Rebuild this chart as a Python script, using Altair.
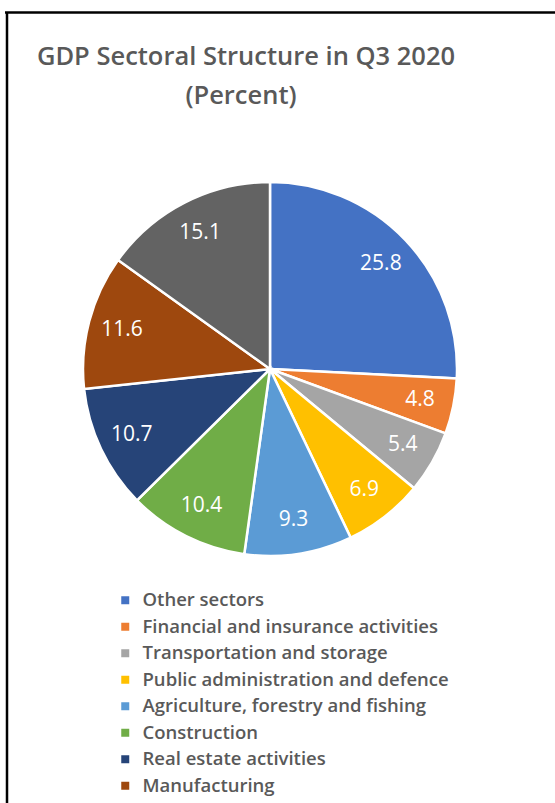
import altair as alt
import pandas as pd

sectors = [
    "Other sectors",
    "Financial and insurance activities",
    "Transportation and storage",
    "Public administration and defence",
    "Agriculture, forestry and fishing",
    "Construction",
    "Real estate activities",
    "Manufacturing",
    "Trade",
]
values = [25.8, 4.8, 5.4, 6.9, 9.3, 10.4, 10.7, 11.6, 15.1]
colors = ["#4472C4", "#ED7D31", "#A5A5A5", "#FFC000", "#5B9BD5",
          "#70AD47", "#264478", "#9E480E", "#636363"]
legend_items = sectors[:8]
title_lines = ["GDP Sectoral Structure in Q3 2020", "(Percent)"]

df = pd.DataFrame({"sector": sectors, "value": values, "idx": range(len(sectors))})
df["label"] = df["value"].map(lambda v: f"{v:.1f}")

CX, CY, R, RL = 270, 369, 187, 153

color = alt.Color(
    "sector:N",
    scale=alt.Scale(domain=sectors, range=colors),
    legend=alt.Legend(
        title=None, orient="none", legendX=116, legendY=591,
        values=legend_items, symbolType="square", symbolSize=64,
        symbolStrokeWidth=0, labelFont="Open Sans", labelFontSize=18.5,
        labelFontWeight=600, labelColor="#595959", labelOffset=8,
        rowPadding=7.5, padding=0, labelLimit=400,
    ),
)

base = alt.Chart(df).encode(
    theta=alt.Theta("value:Q", stack=True),
    order=alt.Order("idx:Q"),
)

pie = base.mark_arc(stroke="white", strokeWidth=2.5).encode(
    color=color,
    x=alt.value(CX), y=alt.value(CY), radius=alt.value(R),
)

labels = base.mark_text(font="Open Sans", fontSize=21, color="white").encode(
    text="label:N",
    x=alt.value(CX), y=alt.value(CY), radius=alt.value(RL),
)

tdf = pd.DataFrame({"t": title_lines, "i": [0, 1]})
title1 = alt.Chart(tdf.iloc[[0]]).mark_text(
    font="Open Sans", fontSize=25.5, fontWeight=600, color="#595959",
    align="center", baseline="alphabetic",
).encode(text="t:N", x=alt.value(246), y=alt.value(65))
title2 = alt.Chart(tdf.iloc[[1]]).mark_text(
    font="Open Sans", fontSize=25.5, fontWeight=600, color="#595959",
    align="center", baseline="alphabetic",
).encode(text="t:N", x=alt.value(241), y=alt.value(104))

bdf = pd.DataFrame({"a": [0]})
top_rule = alt.Chart(bdf).mark_rule(color="black", strokeWidth=2.5).encode(
    x=alt.value(5), x2=alt.value(555), y=alt.value(12.5))
left_rule = alt.Chart(bdf).mark_rule(color="black", strokeWidth=2.5).encode(
    x=alt.value(7), y=alt.value(12), y2=alt.value(803))

chart = alt.layer(pie, labels, title1, title2, top_rule, left_rule).properties(
    width=555, height=803, autosize=alt.AutoSizeParams(type="none"), padding=0,
    background="white",
).configure_view(stroke=None)

chart.save("out.html", embed_options={"renderer": "svg", "actions": False})
